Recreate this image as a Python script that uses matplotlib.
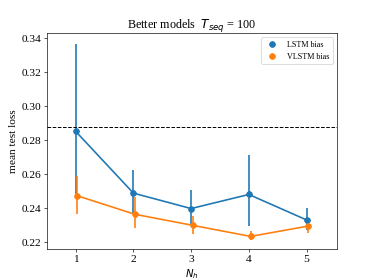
import numpy as np
import matplotlib
matplotlib.use('Agg')
import matplotlib.pyplot as plt

plt.rcParams['font.family'] = 'serif'
plt.rcParams['font.serif'] = ['Liberation Serif']

n_h = [1, 2, 3, 4, 5]

# LSTM bias: mean and error bar ends
lstm_mean = [0.2853, 0.2489, 0.2398, 0.2481, 0.2331]
lstm_low = [0.2486, 0.2374, 0.2309, 0.2297, 0.2270]
lstm_high = [0.3370, 0.2627, 0.2508, 0.2711, 0.2400]

# VLSTM bias
vlstm_mean = [0.2473, 0.2364, 0.2299, 0.2234, 0.2295]
vlstm_low = [0.2368, 0.2285, 0.2250, 0.2214, 0.2256]
vlstm_high = [0.2587, 0.2467, 0.2354, 0.2266, 0.2340]

baseline = 0.2881

fig, ax = plt.subplots(figsize=(6.4, 4.8), dpi=58.44)

x1 = np.array(n_h, dtype=float)
x2 = x1 + 0.03

lm = np.array(lstm_mean)
vm = np.array(vlstm_mean)
lerr = [lm - np.array(lstm_low), np.array(lstm_high) - lm]
verr = [vm - np.array(vlstm_low), np.array(vlstm_high) - vm]

ax.errorbar(x1, lm, yerr=lerr, color='C0', lw=2, elinewidth=2, capsize=0)
ax.scatter(x1, lm, color='C0', s=50, zorder=3, label='LSTM bias')
ax.errorbar(x2, vm, yerr=verr, color='C1', lw=2, elinewidth=2, capsize=0)
ax.scatter(x2, vm, color='C1', s=50, zorder=3, label='VLSTM bias')

ax.axhline(baseline, color='black', ls='--', lw=1.2)

ax.set_xlim(0.5, 5.52)
ax.set_ylim(0.2159, 0.3431)
ax.set_xticks(n_h)
ax.set_yticks([0.22, 0.24, 0.26, 0.28, 0.30, 0.32, 0.34])
ax.set_xlabel('$N_h$', fontsize=12.5)
ax.set_ylabel('mean test loss', fontsize=14)
ax.set_title(r'Better models  $T_{seq}$ = 100', fontsize=15)
ax.tick_params(labelsize=14)
ax.legend(loc='upper right', fontsize=10)

fig.savefig('out.png', dpi=58.44)
